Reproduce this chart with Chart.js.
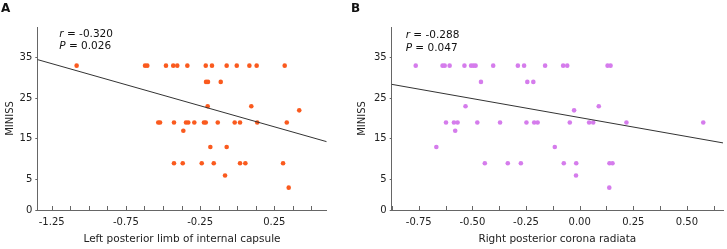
<!DOCTYPE html>
<html><head><meta charset="utf-8">
<script src="https://cdn.jsdelivr.net/npm/chart.js@4"></script>
<style>
html,body{margin:0;padding:0;background:#fff;width:727px;height:249px;overflow:hidden;}
#wrap{position:relative;width:727px;height:249px;}
canvas{position:absolute;top:0;}
.lab{position:absolute;font:bold 12px "DejaVu Sans";color:#111;line-height:14px;}
</style></head><body>
<div id="wrap">
<canvas id="cA" width="340" height="249" style="left:0px"></canvas>
<canvas id="cB" width="375" height="249" style="left:352px"></canvas>
<div class="lab" style="left:1px;top:1px">A</div>
<div class="lab" style="left:351px;top:1px">B</div>
</div>
<script>
// ---- Panel A data: Left posterior limb of internal capsule vs MINISS ----
const leftX = [-1.082,-0.621,-0.606,-0.480,-0.431,-0.404,-0.336,-0.212,-0.170,-0.071,-0.003,0.082,0.131,0.320,
  -0.210,-0.197,-0.111,
  -0.199,0.095,
  0.418,
  -0.532,-0.520,-0.426,-0.345,-0.330,-0.289,-0.224,-0.212,-0.131,-0.017,0.019,0.135,0.334,
  -0.363,
  -0.181,-0.071,
  -0.426,-0.367,-0.239,-0.158,0.019,0.055,0.309,
  -0.082,
  0.347];
const leftY = [33,33,33,33,33,33,33,33,33,33,33,33,33,33,
  29,29,29,
  23,23,
  22,
  19,19,19,19,19,19,19,19,19,19,19,19,19,
  17,
  13,13,
  9,9,9,9,9,9,9,
  6,
  3];
const leftFitX = [-1.347, 0.603];
const leftFitY = [34.5, 14.3];
const leftXTicks = [-1.25,-1.125,-1.0,-0.875,-0.75,-0.625,-0.5,-0.375,-0.25,-0.125,0,0.125,0.25,0.375,0.5];
const leftXLabelValues = [-1.25,-0.75,-0.25,0.25];
const leftXLabels = ['-1.25','-0.75','-0.25','0.25'];

// ---- Panel B data: Right posterior corona radiata vs MINISS ----
const rightX = [-0.764,-0.639,-0.629,-0.606,-0.537,-0.506,-0.495,-0.485,-0.403,-0.288,-0.259,-0.161,-0.077,-0.058,0.130,0.144,
  -0.460,-0.244,-0.216,
  -0.532,0.089,
  -0.026,
  -0.623,-0.586,-0.569,-0.477,-0.371,-0.248,-0.212,-0.196,-0.046,0.044,0.063,0.218,0.576,
  -0.580,
  -0.668,-0.116,
  -0.442,-0.335,-0.274,-0.074,-0.016,0.139,0.153,
  -0.017,
  0.138];
const rightY = [33,33,33,33,33,33,33,33,33,33,33,33,33,33,33,33,
  29,29,29,
  23,23,
  22,
  19,19,19,19,19,19,19,19,19,19,19,19,19,
  17,
  13,13,
  9,9,9,9,9,9,9,
  6,
  3];
const rightFitX = [-0.876, 0.668];
const rightFitY = [28.4, 14.0];
const rightXTicks = [-0.875,-0.75,-0.625,-0.5,-0.375,-0.25,-0.125,0,0.125,0.25,0.375,0.5,0.625];
const rightXLabelValues = [-0.75,-0.5,-0.25,0,0.25,0.5];
const rightXLabels = ['-0.75','-0.50','-0.25','0.00','0.25','0.50'];

// ---- shared y axis ----
const yTickValues = [-2.5,5,15,25,35];
const yTickLabels = ['0','5','15','25','35'];
const yMin = -2.5, yMax = 42.5;

Chart.defaults.font.family = '"DejaVu Sans", Verdana, sans-serif';
Chart.defaults.font.size = 10;
Chart.defaults.color = '#222';

const AXIS = '#666';

function makePanel(id, xs, ys, color, fitX, fitY, xMin, xMax, xTicks, xLabVals, xLabs, xTitle, yAxisWidth, padRight, rTxt, pTxt, annX, annY) {
  const pts = xs.map((x,i)=>({x:x, y:ys[i]}));
  const line = fitX.map((x,i)=>({x:x, y:fitY[i]}));
  const plugin = {
    id: 'extras_'+id,
    afterDraw(chart) {
      const ctx = chart.ctx, xs_ = chart.scales.x, a = chart.chartArea;
      ctx.save();
      ctx.strokeStyle = AXIS; ctx.lineWidth = 1;
      xs_.ticks.forEach(t=>{
        const px = Math.round(xs_.getPixelForValue(t.value)) + 0.5;
        ctx.beginPath(); ctx.moveTo(px, a.bottom); ctx.lineTo(px, a.bottom - 4); ctx.stroke();
      });
      // annotation text
      const x0 = a.left + annX;
      ctx.fillStyle = '#111'; ctx.textBaseline = 'middle';
      const rows = [['r', rTxt, annY], ['P', pTxt, annY + 12.5]];
      rows.forEach(r=>{
        ctx.font = 'italic 10.5px "DejaVu Sans"';
        ctx.fillText(r[0], x0, r[2]);
        const w = ctx.measureText(r[0]).width;
        ctx.font = '10.5px "DejaVu Sans"';
        ctx.fillText(r[1], x0 + w, r[2]);
      });
      ctx.restore();
    }
  };
  return new Chart(document.getElementById(id), {
    type: 'scatter',
    data: { datasets: [
      { type:'line', data: line, showLine:true, borderColor:'#333', borderWidth:1, pointRadius:0, fill:false },
      { data: pts, backgroundColor: color, borderColor: color, pointRadius: 2.3, pointBorderWidth: 0 }
    ]},
    options: {
      responsive:false, animation:false, devicePixelRatio:1,
      layout: { padding: { left:0, right: padRight, top: 27, bottom: 0 } },
      plugins: { legend:{display:false}, tooltip:{enabled:false} },
      scales: {
        x: {
          type:'linear', min:xMin, max:xMax,
          afterBuildTicks: s => { s.ticks = xTicks.map(v=>({value:v})); },
          afterFit: s => { s.height = 39; s.paddingLeft = 0; s.paddingRight = 0; },
          ticks: { autoSkip:false, maxRotation:0, padding:6, color:'#222',
            callback: v => { const i = xLabVals.findIndex(q=>Math.abs(q-v)<1e-9); return i>=0 ? xLabs[i] : ''; } },
          grid: { display:true, drawOnChartArea:false, drawTicks:false },
          border: { display:true, color:AXIS, width:1 },
          title: { display:true, text:xTitle, color:'#222', font:{size:10.5}, padding:{top:0,bottom:3} }
        },
        y: {
          type:'linear', min:yMin, max:yMax,
          afterBuildTicks: s => { s.ticks = yTickValues.map(v=>({value:v})); },
          afterFit: s => { s.width = yAxisWidth; s.paddingTop = 0; s.paddingBottom = 0; },
          ticks: { padding:3, color:'#222',
            callback: v => { const i = yTickValues.findIndex(q=>Math.abs(q-v)<1e-9); return i>=0 ? yTickLabels[i] : ''; } },
          grid: { display:true, drawOnChartArea:false, drawTicks:true, tickLength:2, color:AXIS },
          border: { display:true, color:AXIS, width:1 },
          title: { display:true, text:'MINISS', color:'#222', font:{size:10}, padding:{top:4,bottom:0} }
        }
      }
    },
    plugins: [plugin]
  });
}

makePanel('cA', leftX, leftY, '#FA5A1E', leftFitX, leftFitY, -1.347, 0.603,
  leftXTicks, leftXLabelValues, leftXLabels, 'Left posterior limb of internal capsule', 37.3, 13.3, ' = -0.320', ' = 0.026', 22, 34);
makePanel('cB', rightX, rightY, '#D57CEC', rightFitX, rightFitY, -0.876, 0.668,
  rightXTicks, rightXLabelValues, rightXLabels, 'Right posterior corona radiata', 39.7, 0, ' = -0.288', ' = 0.047', 14, 35.5);
</script>
</body></html>
